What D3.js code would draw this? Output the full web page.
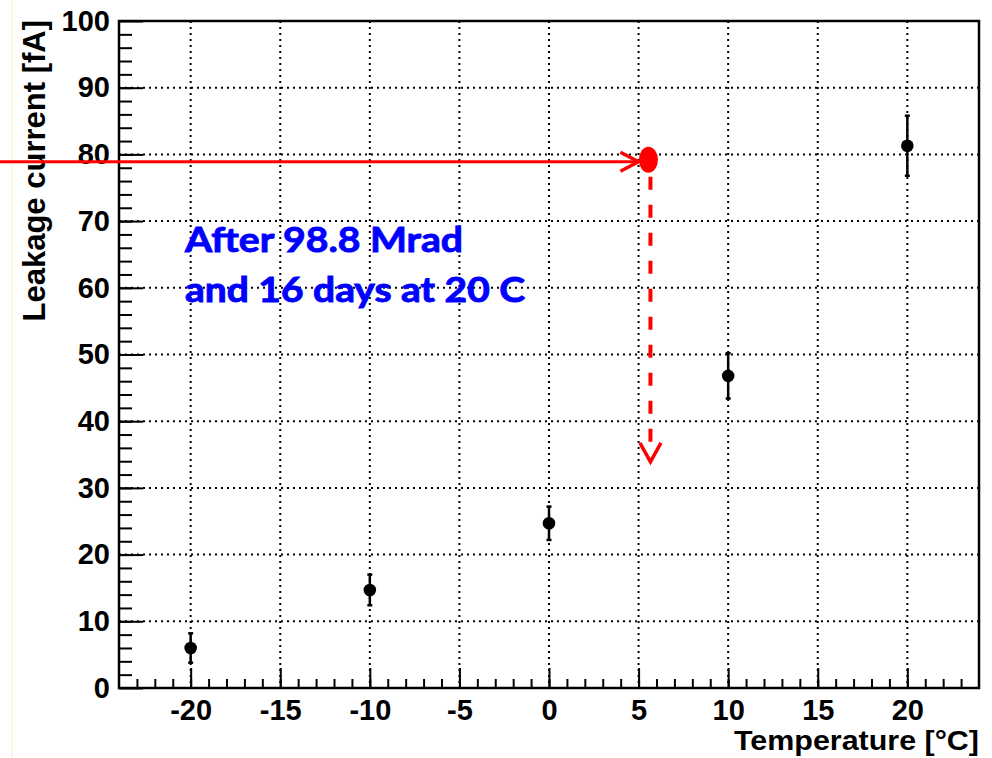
<!DOCTYPE html>
<html>
<head>
<meta charset="utf-8">
<script src="https://cdn.jsdelivr.net/npm/d3@7"></script>
<style>
  body { margin: 0; background: #fff; }
  .tick text { font-family: "Liberation Sans", Arial, sans-serif; font-weight: bold; font-size: 29px; fill: #000; }
</style>
</head>
<body>
<div id="chart"></div>
<script>
// measured points: temperature [C], leakage current [fA], error [fA]
const temps = [-20, -10, 0, 10, 20];
const currents = [6.0, 14.7, 24.7, 46.8, 81.3];
const errors = [2.2, 2.3, 2.5, 3.4, 4.5];

const xMajor = [-20, -15, -10, -5, 0, 5, 10, 15, 20];
const yMajor = [0, 10, 20, 30, 40, 50, 60, 70, 80, 90, 100];

// read-out of the annealed value
const readT = [5.55];
const readI = [79.2];
const arrowEndI = [33.9];

const width = 992, height = 758;
const frame = { left: 119, right: 979, top: 21, bottom: 688 };

const x = d3.scaleLinear().domain([-24, 24]).range([frame.left, frame.right]);
const y = d3.scaleLinear().domain([0, 100]).range([frame.bottom, frame.top]);

const plain = d => String(d);   // keep the ascii hyphen for negatives

const svg = d3.select('#chart').append('svg')
  .attr('width', width)
  .attr('height', height);

// faint edge line of the slide
svg.append('line')
  .attr('x1', 12).attr('x2', 12).attr('y1', 0).attr('y2', height)
  .attr('stroke', '#f6efcf').attr('stroke-width', 1);

// dotted grid
const grid = svg.append('g').attr('stroke', '#000').attr('stroke-width', 2)
  .attr('stroke-dasharray', '2,4');
grid.selectAll('.gx').data(xMajor).join('line')
  .attr('x1', d => x(d)).attr('x2', d => x(d))
  .attr('y1', frame.top).attr('y2', frame.bottom);
grid.selectAll('.gy').data(yMajor.slice(1, -1)).join('line')
  .attr('x1', frame.left).attr('x2', frame.right)
  .attr('y1', d => y(d)).attr('y2', d => y(d));

// x axis: minor then major ticks pointing into the frame
const xMinor = svg.append('g')
  .attr('transform', 'translate(0,' + frame.bottom + ')')
  .call(d3.axisBottom(x).tickValues(d3.range(-23, 24, 1)).tickSizeInner(-9).tickSizeOuter(0).tickFormat(''));
const xAxis = svg.append('g')
  .attr('transform', 'translate(0,' + frame.bottom + ')')
  .call(d3.axisBottom(x).tickValues(xMajor).tickSizeInner(-20).tickSizeOuter(0).tickPadding(11).tickFormat(plain));

const yMinor = svg.append('g')
  .attr('transform', 'translate(' + frame.left + ',0)')
  .call(d3.axisLeft(y).tickValues(d3.range(2, 100, 2)).tickSizeInner(-13).tickSizeOuter(0).tickFormat(''));
const yAxis = svg.append('g')
  .attr('transform', 'translate(' + frame.left + ',0)')
  .call(d3.axisLeft(y).tickValues(yMajor).tickSizeInner(-24).tickSizeOuter(0).tickPadding(9).tickFormat(plain));

[xMinor, xAxis, yMinor, yAxis].forEach(g => {
  g.select('.domain').remove();
  g.selectAll('.tick line').attr('stroke', '#000').attr('stroke-width', 2);
});

// frame
svg.append('rect')
  .attr('x', frame.left).attr('y', frame.top)
  .attr('width', frame.right - frame.left).attr('height', frame.bottom - frame.top)
  .attr('fill', 'none').attr('stroke', '#000').attr('stroke-width', 2.5);

// axis titles
svg.append('text')
  .attr('x', frame.right).attr('y', 750)
  .attr('text-anchor', 'end')
  .attr('textLength', 245).attr('lengthAdjust', 'spacingAndGlyphs')
  .style('font-family', '"Liberation Sans", Arial, sans-serif')
  .style('font-weight', 'bold').style('font-size', '28px')
  .text('Temperature [°C]');

svg.append('text')
  .attr('transform', 'translate(45,' + 20 + ') rotate(-90)')
  .attr('text-anchor', 'end')
  .style('font-family', '"Liberation Sans", Arial, sans-serif')
  .style('font-weight', 'bold').style('font-size', '31px')
  .text('Leakage current [fA]');

// data points with error bars
const pts = svg.append('g');
temps.forEach((t, i) => {
  const lo = currents[i] - errors[i], hi = currents[i] + errors[i];
  pts.append('line')
    .attr('x1', x(t)).attr('x2', x(t))
    .attr('y1', y(lo)).attr('y2', y(hi))
    .attr('stroke', '#000').attr('stroke-width', 2.5);
  [lo, hi].forEach(v => pts.append('line')
    .attr('x1', x(t) - 2.5).attr('x2', x(t) + 2.5)
    .attr('y1', y(v)).attr('y2', y(v))
    .attr('stroke', '#000').attr('stroke-width', 2.5));
  pts.append('circle')
    .attr('cx', x(t)).attr('cy', y(currents[i]))
    .attr('r', 6.3).attr('fill', '#000');
});

// read-out arrows
const red = '#ff0000';
const px = x(readT[0]), py = y(readI[0]);
const lineY = py + 2;

svg.append('line')
  .attr('x1', 0).attr('x2', px - 10)
  .attr('y1', lineY).attr('y2', lineY)
  .attr('stroke', red).attr('stroke-width', 3);
svg.append('polyline')
  .attr('points', [[px - 28, lineY - 9.5], [px - 10, lineY], [px - 28, lineY + 9.5]].join(' '))
  .attr('fill', 'none').attr('stroke', red).attr('stroke-width', 3.5);

const tipY = y(arrowEndI[0]);
svg.append('line')
  .attr('x1', px + 2).attr('x2', px + 2)
  .attr('y1', py + 17).attr('y2', tipY - 20)
  .attr('stroke', red).attr('stroke-width', 4)
  .attr('stroke-dasharray', '13,15');
svg.append('polyline')
  .attr('points', [[px - 8.5, tipY - 19], [px + 2, tipY], [px + 12.5, tipY - 19]].join(' '))
  .attr('fill', 'none').attr('stroke', red).attr('stroke-width', 3.5);

svg.append('ellipse')
  .attr('cx', px).attr('cy', py)
  .attr('rx', 9.5).attr('ry', 13)
  .attr('fill', red);

// annotation
const note = svg.append('g')
  .style('font-family', 'Lato, "Open Sans", sans-serif')
  .style('font-weight', 'bold').style('font-size', '35px')
  .attr('fill', '#0000ff')
  .attr('stroke', '#0000ff').attr('stroke-width', 0.9);
note.append('text').attr('x', 185).attr('y', 252)
  .attr('textLength', 278).attr('lengthAdjust', 'spacingAndGlyphs')
  .text('After 98.8 Mrad');
note.append('text').attr('x', 185).attr('y', 302)
  .attr('textLength', 340).attr('lengthAdjust', 'spacingAndGlyphs')
  .text('and 16 days at 20 C');
</script>
</body>
</html>
